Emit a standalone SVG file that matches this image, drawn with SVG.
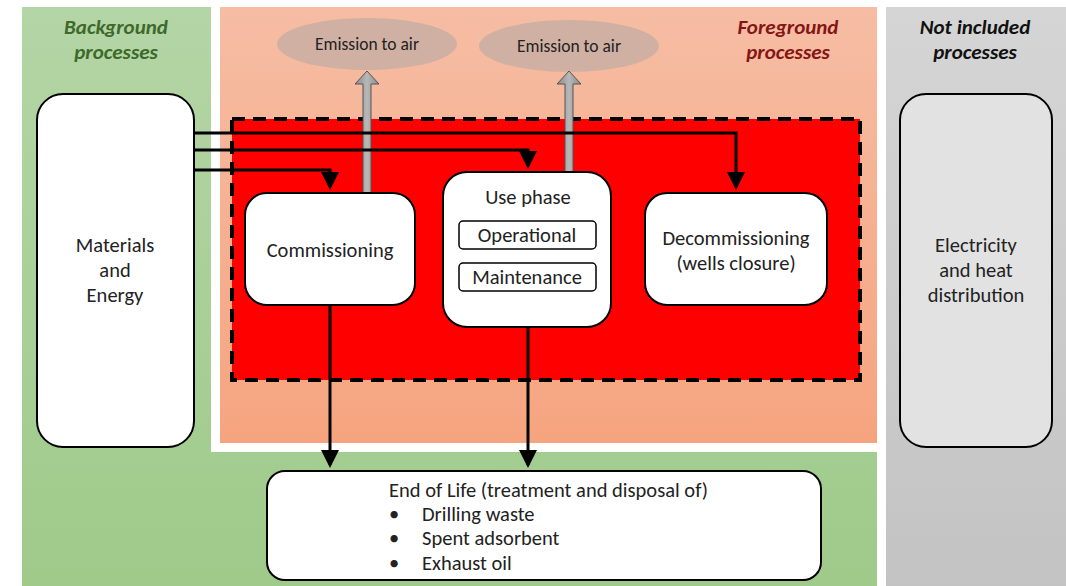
<svg xmlns="http://www.w3.org/2000/svg" width="1066" height="586" viewBox="0 0 1066 586">
<defs>
<linearGradient id="gGreen" x1="0" y1="0" x2="0" y2="1"><stop offset="0" stop-color="#b4d5a6"/><stop offset="1" stop-color="#9fca8a"/></linearGradient>
<linearGradient id="gOrange" x1="0" y1="0" x2="0" y2="1"><stop offset="0" stop-color="#f6bda4"/><stop offset="1" stop-color="#f6a47f"/></linearGradient>
<linearGradient id="gGray" x1="0" y1="0" x2="0" y2="1"><stop offset="0" stop-color="#d5d5d5"/><stop offset="1" stop-color="#c3c3c3"/></linearGradient>
<linearGradient id="gArrow" x1="0" y1="0" x2="1" y2="0"><stop offset="0" stop-color="#8a8a8a"/><stop offset="0.5" stop-color="#b8b8b8"/><stop offset="1" stop-color="#8a8a8a"/></linearGradient>
<marker id="ah" markerWidth="6" markerHeight="6" refX="5" refY="3" orient="auto" markerUnits="strokeWidth"><path d="M0,0 L6,3 L0,6 Z" fill="#000"/></marker>
<style>
.box{fill:#fff;stroke:#000;stroke-width:2}
.t{font-family:Carlito,"Liberation Sans",Arial,sans-serif;font-size:20.5px;fill:#222;text-anchor:middle}
.tl{font-family:Carlito,"Liberation Sans",Arial,sans-serif;font-size:20.5px;fill:#222}
.h{font-family:Carlito,"Liberation Sans",Arial,sans-serif;font-size:21px;font-weight:bold;font-style:italic;text-anchor:middle}
.em{font-family:Carlito,"Liberation Sans",Arial,sans-serif;font-size:17.5px;fill:#222;text-anchor:middle}
.c{fill:none;stroke:#000;stroke-width:3}
.ga{fill:url(#gArrow);stroke:#555;stroke-width:1}
</style>
</defs>
<rect width="1066" height="586" fill="#fff"/>
<!-- panels -->
<path d="M22,7 H211 V452 H877 V586 H22 Z" fill="url(#gGreen)"/>
<rect x="220" y="7" width="657" height="436" fill="url(#gOrange)"/>
<rect x="886" y="7" width="180" height="579" fill="url(#gGray)"/>
<rect x="232" y="119" width="628" height="261" fill="#ff0000" stroke="#000" stroke-width="4" stroke-dasharray="13,8"/>
<text class="h" fill="#3d6a2a"><tspan x="116" y="34">Background</tspan><tspan x="116" y="59">processes</tspan></text>
<text class="h" fill="#841616"><tspan x="788" y="34">Foreground</tspan><tspan x="788" y="59">processes</tspan></text>
<text class="h" fill="#111"><tspan x="975" y="34">Not included</tspan><tspan x="975" y="59">processes</tspan></text>
<g id="emission1"><ellipse cx="367" cy="44" rx="90" ry="26" fill="#d0b0a2"/><text class="em" x="367" y="50">Emission to air</text></g>
<g id="emission2"><ellipse cx="569" cy="46" rx="90" ry="26" fill="#d0b0a2"/><text class="em" x="569" y="52">Emission to air</text></g>
<g id="connectors">
<path class="ga" d="M363,193 V84 H355 L367,71 L379,84 H371 V193 Z"/>
<path class="ga" d="M565,172 V84 H557 L569,71 L581,84 H573 V172 Z"/>
<path class="c" d="M194,133 H736 V187" marker-end="url(#ah)"/>
<path class="c" d="M194,150 H528 V166" marker-end="url(#ah)"/>
<path class="c" d="M194,170 H330 V187" marker-end="url(#ah)"/>
<path class="c" d="M330,305 V465" marker-end="url(#ah)"/>
<path class="c" d="M528,327 V465" marker-end="url(#ah)"/>
</g>
<g id="materials"><rect class="box" x="37" y="94" width="157" height="353" rx="26"/><text class="t"><tspan x="115" y="252">Materials</tspan><tspan x="115" y="277">and</tspan><tspan x="115" y="302">Energy</tspan></text></g>
<g id="electricity"><rect x="900" y="94" width="152" height="353" rx="26" fill="#e2e2e2" stroke="#000" stroke-width="2"/><text class="t"><tspan x="976" y="252">Electricity</tspan><tspan x="976" y="277">and heat</tspan><tspan x="976" y="302">distribution</tspan></text></g>
<g id="commissioning"><rect class="box" x="245" y="193" width="170" height="112" rx="22"/><text class="t" x="330" y="257">Commissioning</text></g>
<g id="usephase"><rect class="box" x="443" y="172" width="168" height="155" rx="24"/><text class="t" x="528" y="204">Use phase</text>
<rect x="459" y="221" width="137" height="28" rx="4" fill="#fff" stroke="#000" stroke-width="1.5"/><text class="t" x="527" y="242">Operational</text>
<rect x="459" y="263" width="137" height="28" rx="4" fill="#fff" stroke="#000" stroke-width="1.5"/><text class="t" x="527" y="284">Maintenance</text></g>
<g id="decommissioning"><rect class="box" x="645" y="193" width="182" height="112" rx="22"/><text class="t"><tspan x="736" y="245">Decommissioning</tspan><tspan x="736" y="270">(wells closure)</tspan></text></g>
<g id="endoflife"><rect class="box" x="267" y="471" width="554" height="109" rx="18"/>
<text class="tl" x="389" y="497">End of Life (treatment and disposal of)</text>
<text class="tl" x="389" y="521">•</text><text class="tl" x="422" y="521">Drilling waste</text>
<text class="tl" x="389" y="545">•</text><text class="tl" x="422" y="545">Spent adsorbent</text>
<text class="tl" x="389" y="570">•</text><text class="tl" x="422" y="570">Exhaust oil</text></g>
</svg>
